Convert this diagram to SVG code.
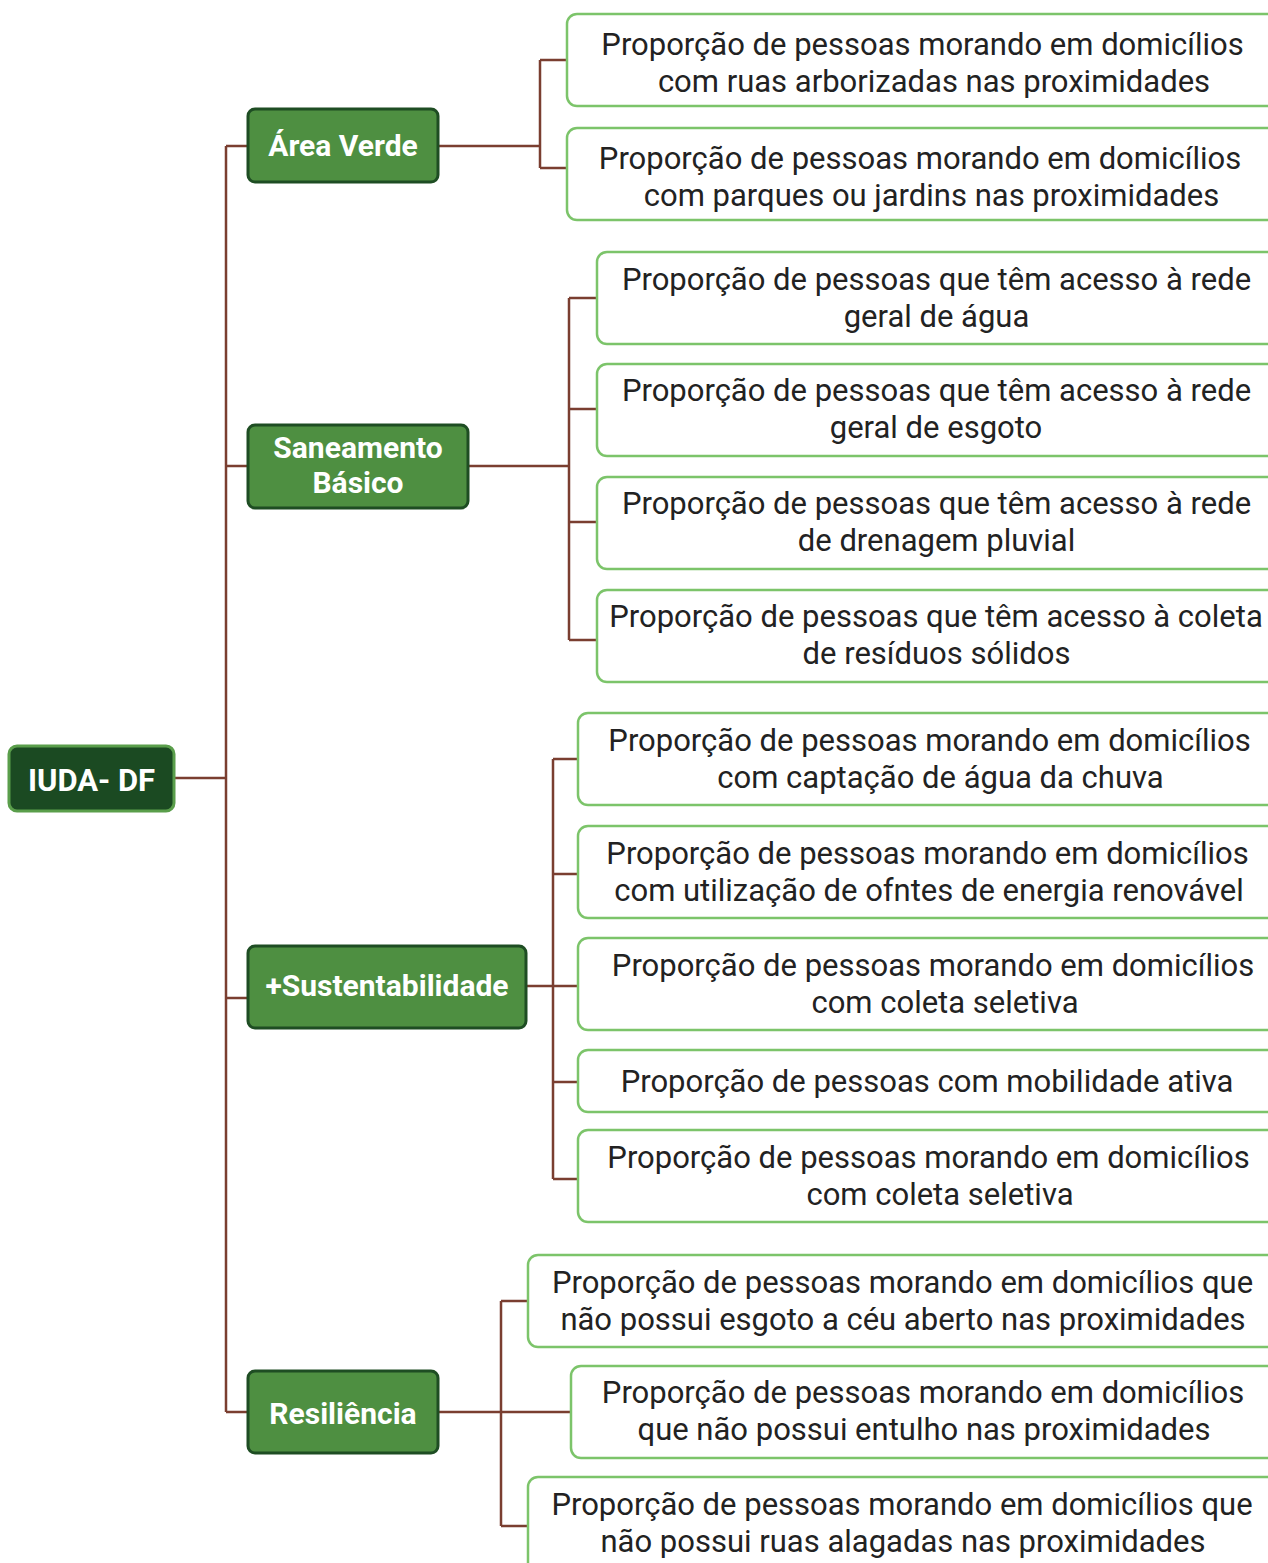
<svg xmlns="http://www.w3.org/2000/svg" width="1268" height="1563" viewBox="0 0 1268 1563">
<style>
.root{fill:#1b4a22;stroke:#5a9e4b;stroke-width:3}
.cat{fill:#4e8f41;stroke:#1e4d23;stroke-width:3}
.leaf{fill:#ffffff;stroke:#7cc46a;stroke-width:2.5}
.ct{font-family:Roboto,"Liberation Sans",sans-serif;font-weight:bold;font-size:30px;fill:#ffffff;text-anchor:middle}
.lt{font-family:Roboto,"Liberation Sans",sans-serif;font-size:31px;fill:#222222;text-anchor:middle}
.con{fill:none;stroke:#7a3e30;stroke-width:2.5}
</style>
<rect width="1268" height="1563" fill="#ffffff"/>
<g id="connectors">
<path class="con" d="M174 778H226M226 146V1412M226 146H248M226 466H248M226 998H248M226 1412H248"/>
<path class="con" d="M438 146H540M540 60V168M540 60H567M540 168H567"/>
<path class="con" d="M468 466H569M569 298V640M569 298H597M569 409H597M569 522H597M569 640H597"/>
<path class="con" d="M526 986H553M553 759V1179M553 759H578M553 874H578M553 986H578M553 1082H578M553 1179H578"/>
<path class="con" d="M438 1412H571M501 1301V1526M501 1301H528M501 1526H528"/>
</g>
<g id="root"><rect class="root" x="9" y="746" width="165" height="65" rx="8"/><text class="ct" x="91.5" y="791" style="font-size:31px">IUDA- DF</text></g>
<g id="area-verde"><rect class="cat" x="248" y="109" width="190" height="73" rx="7"/><text class="ct" x="343" y="156">Área Verde</text></g>
<g id="saneamento"><rect class="cat" x="248" y="425" width="220" height="83" rx="7"/><text class="ct" x="358" y="458">Saneamento</text><text class="ct" x="358" y="493">Básico</text></g>
<g id="sustentabilidade"><rect class="cat" x="248" y="946" width="278" height="82" rx="7"/><text class="ct" x="387" y="996">+Sustentabilidade</text></g>
<g id="resiliencia"><rect class="cat" x="248" y="1371" width="190" height="82" rx="7"/><text class="ct" x="343" y="1424">Resiliência</text></g>

<g id="a1"><rect class="leaf" x="567" y="14" width="730" height="92" rx="10"/><text class="lt" x="922.5" y="55">Proporção de pessoas morando em domicílios</text><text class="lt" x="934" y="92">com ruas arborizadas nas proximidades</text></g>
<g id="a2"><rect class="leaf" x="567" y="128" width="730" height="92" rx="10"/><text class="lt" x="920" y="169">Proporção de pessoas morando em domicílios</text><text class="lt" x="931.5" y="206">com parques ou jardins nas proximidades</text></g>

<g id="s1"><rect class="leaf" x="597" y="252" width="700" height="92" rx="10"/><text class="lt" x="936.5" y="290">Proporção de pessoas que têm acesso à rede</text><text class="lt" x="936.5" y="327">geral de água</text></g>
<g id="s2"><rect class="leaf" x="597" y="364" width="700" height="92" rx="10"/><text class="lt" x="936.5" y="401">Proporção de pessoas que têm acesso à rede</text><text class="lt" x="936" y="438">geral de esgoto</text></g>
<g id="s3"><rect class="leaf" x="597" y="477" width="700" height="92" rx="10"/><text class="lt" x="936.5" y="514">Proporção de pessoas que têm acesso à rede</text><text class="lt" x="936.5" y="551">de drenagem pluvial</text></g>
<g id="s4"><rect class="leaf" x="597" y="590" width="700" height="92" rx="10"/><text class="lt" x="936" y="627">Proporção de pessoas que têm acesso à coleta</text><text class="lt" x="936.5" y="664">de resíduos sólidos</text></g>

<g id="u1"><rect class="leaf" x="578" y="713" width="720" height="92" rx="10"/><text class="lt" x="929.5" y="751">Proporção de pessoas morando em domicílios</text><text class="lt" x="940.5" y="788">com captação de água da chuva</text></g>
<g id="u2"><rect class="leaf" x="578" y="826" width="720" height="92" rx="10"/><text class="lt" x="927.5" y="864">Proporção de pessoas morando em domicílios</text><text class="lt" x="929" y="901">com utilização de ofntes de energia renovável</text></g>
<g id="u3"><rect class="leaf" x="578" y="938" width="720" height="92" rx="10"/><text class="lt" x="933" y="976">Proporção de pessoas morando em domicílios</text><text class="lt" x="945" y="1013">com coleta seletiva</text></g>
<g id="u4"><rect class="leaf" x="578" y="1050" width="720" height="62" rx="10"/><text class="lt" x="927" y="1092">Proporção de pessoas com mobilidade ativa</text></g>
<g id="u5"><rect class="leaf" x="578" y="1130" width="720" height="92" rx="10"/><text class="lt" x="928.5" y="1168">Proporção de pessoas morando em domicílios</text><text class="lt" x="940" y="1205">com coleta seletiva</text></g>

<g id="r1"><rect class="leaf" x="528" y="1255" width="770" height="92" rx="10"/><text class="lt" x="902.5" y="1293">Proporção de pessoas morando em domicílios que</text><text class="lt" x="903" y="1330">não possui esgoto a céu aberto nas proximidades</text></g>
<g id="r2"><rect class="leaf" x="571" y="1366" width="727" height="92" rx="10"/><text class="lt" x="923" y="1403">Proporção de pessoas morando em domicílios</text><text class="lt" x="924" y="1440">que não possui entulho nas proximidades</text></g>
<g id="r3"><rect class="leaf" x="528" y="1477" width="770" height="100" rx="10"/><text class="lt" x="902" y="1515">Proporção de pessoas morando em domicílios que</text><text class="lt" x="903" y="1552">não possui ruas alagadas nas proximidades</text></g>
</svg>
